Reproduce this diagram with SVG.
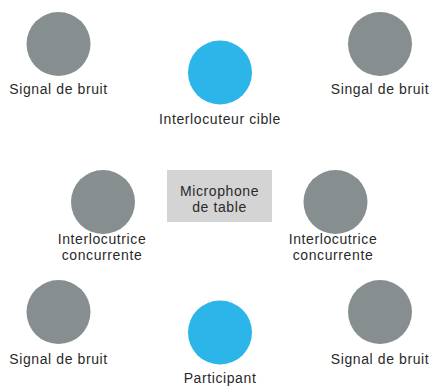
<svg xmlns="http://www.w3.org/2000/svg" width="430" height="387" viewBox="0 0 430 387">
<style>
.g{fill:#878e90}
.b{fill:#2bb5e8}
text{font-family:"Liberation Sans",Arial,sans-serif;font-size:14px;letter-spacing:0.6px;fill:#2a2a2a;text-anchor:middle}
</style>
<rect width="430" height="387" fill="#fff"/>
<g id="noise-tl"><circle class="g" cx="58.5" cy="44" r="32"/><text x="58.5" y="94">Signal de bruit</text></g>
<g id="target"><circle class="b" cx="220" cy="72.5" r="32"/><text x="220" y="124">Interlocuteur cible</text></g>
<g id="noise-tr"><circle class="g" cx="380" cy="44" r="32"/><text x="380" y="94">Singal de bruit</text></g>
<g id="comp-left"><circle class="g" cx="103" cy="202" r="32"/><text x="102" y="244">Interlocutrice</text><text x="102" y="260">concurrente</text></g>
<g id="mic"><rect x="167" y="170" width="105" height="52" fill="#d4d4d4"/><text x="219.5" y="196">Microphone</text><text x="219.5" y="212">de table</text></g>
<g id="comp-right"><circle class="g" cx="335.5" cy="202" r="32"/><text x="333" y="244">Interlocutrice</text><text x="333" y="260">concurrente</text></g>
<g id="noise-bl"><circle class="g" cx="58.5" cy="312" r="32"/><text x="58.5" y="364">Signal de bruit</text></g>
<g id="participant"><circle class="b" cx="220" cy="332.5" r="32"/><text x="220" y="383">Participant</text></g>
<g id="noise-br"><circle class="g" cx="380" cy="312" r="32"/><text x="380" y="364">Signal de bruit</text></g>
<g id="connectors"/>
</svg>
